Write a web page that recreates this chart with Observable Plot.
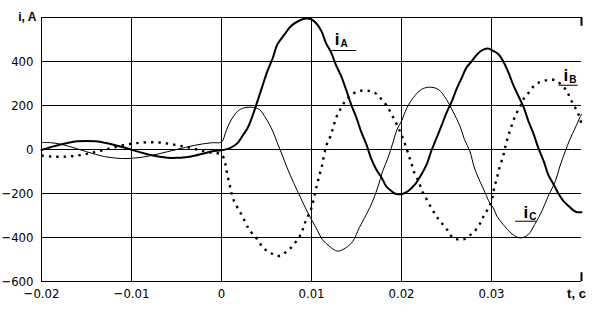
<!DOCTYPE html>
<html>
<head>
<meta charset="utf-8">
<script src="https://cdn.jsdelivr.net/npm/d3@7"></script>
<script src="https://cdn.jsdelivr.net/npm/@observablehq/plot@0.6"></script>
<style>
  html, body { margin: 0; padding: 0; background: #fff; }
  #chart svg { display: block; }
</style>
</head>
<body>
<div id="chart"></div>
<script>
// ---- data ----
const xTicks = [-0.02, -0.01, 0, 0.01, 0.02, 0.03];
const yTicks = [-600, -400, -200, 0, 200, 400];
const yGrid = [-600, -400, -200, 0, 200, 400, 600];
const xLabel = "t, c";
const yLabel = "i, A";

// pre-fault samples (t in s)
const tPre = [-0.020, -0.019, -0.018, -0.017, -0.016, -0.015, -0.014, -0.013, -0.012, -0.011, -0.010,
              -0.009, -0.008, -0.007, -0.006, -0.005, -0.004, -0.003, -0.002, -0.001, 0.000];
const iA_pre = [-2, 10, 22, 31, 37, 39, 37, 31, 22, 11, -1, -13, -24, -32, -37, -38, -35, -28, -18, -8, -4];
const iB_pre = [-27, -32, -33, -32, -27, -20, -11, -1, 9, 19, 26, 31, 33, 32, 27, 20, 12, 3, -7, -16, -22];
const iC_pre = [32, 31, 25, 15, 3, -10, -22, -32, -38, -41, -40, -36, -29, -20, -10, 0, 10, 19, 26, 31, 34];

// post-fault samples [t, i]
const iA_post = [[0.0010,7],[0.0018,30],[0.0023,60],[0.0029,98],[0.0035,159],[0.0040,220],[0.0046,295],
  [0.0051,356],[0.0057,416],[0.0062,477],[0.0070,523],[0.0077,560],[0.0085,583],[0.0094,595],[0.0100,591],
  [0.0105,575],[0.0111,538],[0.0116,485],[0.0122,439],[0.0127,386],[0.0133,333],[0.0139,265],[0.0144,205],
  [0.0150,144],[0.0155,83],[0.0161,23],[0.0166,-38],[0.0172,-91],[0.0178,-129],[0.0183,-167],[0.0189,-190],
  [0.0194,-202],[0.0201,-202],[0.0207,-190],[0.0215,-159],[0.0222,-114],[0.0228,-68],[0.0233,-8],[0.0239,53],
  [0.0245,114],[0.0250,166],[0.0256,220],[0.0261,273],[0.0267,326],[0.0272,371],[0.0278,401],[0.0284,432],
  [0.0289,450],[0.0296,459],[0.0301,450],[0.0308,432],[0.0313,401],[0.0319,348],[0.0324,295],[0.0330,242],
  [0.0336,189],[0.0341,129],[0.0347,68],[0.0352,7],[0.0358,-53],[0.0363,-114],[0.0369,-159],[0.0375,-205],
  [0.0380,-235],[0.0386,-258],[0.0391,-277],[0.0395,-285],[0.0400,-285]];

const iB_post = [[0.0004,-61],[0.0006,-106],[0.0009,-159],[0.0011,-197],[0.0014,-235],[0.0020,-280],[0.0025,-318],
  [0.0030,-359],[0.0035,-386],[0.0041,-414],[0.0046,-447],[0.0053,-465],[0.0060,-482],[0.0066,-482],[0.0072,-465],
  [0.0077,-447],[0.0083,-417],[0.0089,-379],[0.0092,-341],[0.0096,-303],[0.0100,-265],[0.0103,-215],[0.0106,-162],
  [0.0109,-114],[0.0112,-68],[0.0114,-23],[0.0117,23],[0.0121,60],[0.0124,98],[0.0127,141],[0.0131,174],
  [0.0135,205],[0.0140,232],[0.0146,253],[0.0152,265],[0.0159,268],[0.0166,265],[0.0173,250],[0.0178,227],
  [0.0184,197],[0.0189,159],[0.0194,121],[0.0198,85],[0.0202,45],[0.0206,0],[0.0209,-38],[0.0212,-76],
  [0.0215,-114],[0.0219,-144],[0.0223,-190],[0.0226,-212],[0.0231,-250],[0.0236,-285],[0.0240,-311],
  [0.0246,-341],[0.0252,-371],[0.0257,-402],[0.0263,-409],[0.0269,-409],[0.0274,-394],[0.0280,-379],
  [0.0285,-349],[0.0289,-326],[0.0292,-295],[0.0297,-265],[0.0301,-220],[0.0303,-175],[0.0306,-130],
  [0.0309,-80],[0.0313,-30],[0.0315,7],[0.0318,53],[0.0321,91],[0.0324,129],[0.0328,166],[0.0332,197],
  [0.0336,232],[0.0341,257],[0.0347,288],[0.0352,303],[0.0360,314],[0.0367,318],[0.0373,310],[0.0379,288],
  [0.0384,265],[0.0387,235],[0.0391,205],[0.0395,174],[0.0398,144],[0.0400,114]];

const iC_post = [[0.0005,83],[0.0010,129],[0.0018,174],[0.0025,189],[0.0034,192],[0.0042,182],[0.0049,144],
  [0.0057,83],[0.0062,30],[0.0068,-30],[0.0073,-84],[0.0080,-150],[0.0088,-220],[0.0095,-280],[0.0101,-326],
  [0.0107,-371],[0.0112,-409],[0.0120,-440],[0.0129,-462],[0.0138,-447],[0.0146,-417],[0.0153,-356],
  [0.0161,-295],[0.0168,-235],[0.0174,-167],[0.0179,-99],[0.0185,-38],[0.0191,38],[0.0195,91],[0.0200,129],
  [0.0206,189],[0.0213,235],[0.0222,273],[0.0231,283],[0.0241,273],[0.0250,227],[0.0257,174],[0.0265,106],
  [0.0270,45],[0.0276,-8],[0.0281,-84],[0.0287,-144],[0.0293,-197],[0.0298,-243],[0.0302,-265],[0.0306,-303],
  [0.0313,-341],[0.0323,-384],[0.0332,-402],[0.0341,-386],[0.0348,-341],[0.0356,-280],[0.0363,-212],
  [0.0371,-144],[0.0376,-76],[0.0382,-8],[0.0387,45],[0.0393,98],[0.0398,144],[0.0400,160]];

// curve labels (annotation anchors in data units)
const labelNames = ["A", "B", "C"];
const labelT = [0.01285, 0.03827, 0.03381];
const labelI = [476, 310, -312];
const underT1 = [0.01219, 0.03746, 0.03262];
const underT2 = [0.01497, 0.03958, 0.03500];
const underI = [450, 292, -326];

// ---- build tables ----
function series(pre, post) {
  return tPre.map((t, k) => ({t, i: pre[k]})).concat(post.map(([t, i]) => ({t, i})));
}
const dA = series(iA_pre, iA_post);
const dB = series(iB_pre, iB_post);
const dC = series(iC_pre, iC_post);
const labels = labelNames.map((n, k) => ({n, t: labelT[k], i: labelI[k], u1: underT1[k], u2: underT2[k], ui: underI[k]}));

const xMin = xTicks[0], xMax = 0.04, yMin = yGrid[0], yMax = yGrid[yGrid.length - 1];
const font = "'Liberation Sans Narrow', 'Arial Narrow', 'DejaVu Sans Condensed', sans-serif";
const fmt = d => (d === 0 ? "0" : String(d).replace("-", "\u2212"));

const chart = Plot.plot({
  width: 608,
  height: 312,
  marginLeft: 41,
  marginRight: 27,
  marginTop: 17,
  marginBottom: 31,
  style: {fontFamily: font, fontSize: "13px", color: "black", background: "white"},
  x: {domain: [xMin, xMax], axis: null},
  y: {domain: [yMin, yMax], axis: null},
  marks: [
    Plot.ruleY(yGrid, {stroke: "black", strokeWidth: 1}),
    Plot.ruleX(xTicks, {stroke: "black", strokeWidth: 1}),
    Plot.ruleX([xMax], {y1: yMax, y2: yMax - 40, stroke: "black", strokeWidth: 2}),
    Plot.ruleX([xMax], {y1: yMin, y2: yMin + 40, stroke: "black", strokeWidth: 2}),
    Plot.axisY(yTicks, {tickSize: 0, tickPadding: 8, fontSize: 13, fontFamily: font, label: null, tickFormat: fmt}),
    Plot.axisX(xTicks, {tickSize: 0, tickPadding: 7, fontSize: 13, fontFamily: font, label: null, tickFormat: fmt}),
    Plot.text([yLabel], {frameAnchor: "top-left", dx: -5, dy: 0, text: d => d, textAnchor: "end",
      lineAnchor: "middle", fontWeight: "bold", fontSize: 12, fontFamily: "Liberation Sans, Arial, sans-serif"}),
    Plot.text([xLabel], {x: () => xMax, y: () => yMin, text: d => d, dx: -5, dy: 12, textAnchor: "middle",
      lineAnchor: "middle", fontWeight: "bold", fontSize: 13, fontFamily: "Liberation Sans, Arial, sans-serif"}),
    Plot.line(dC, {x: "t", y: "i", stroke: "black", strokeWidth: 1, curve: "catmull-rom"}),
    Plot.line(dB, {x: "t", y: "i", stroke: "black", strokeWidth: 2.4, strokeLinecap: "butt",
      strokeDasharray: "2.4,5", curve: "catmull-rom"}),
    Plot.line(dA, {x: "t", y: "i", stroke: "black", strokeWidth: 2, curve: "catmull-rom"}),
    Plot.link(labels, {x1: "u1", x2: "u2", y1: "ui", y2: "ui", stroke: "black", strokeWidth: 1}),
    Plot.text(labels, {x: "t", y: "i", text: () => "i", lineAnchor: "bottom", fontWeight: "bold", fontSize: 17,
      fontFamily: "Liberation Sans, Arial, sans-serif"}),
    Plot.text(labels, {x: "t", y: "i", text: "n", dx: 7, dy: 2, lineAnchor: "bottom", fontWeight: "bold", fontSize: 10,
      fontFamily: "Liberation Sans, Arial, sans-serif"})
  ]
});
document.getElementById("chart").appendChild(chart);
</script>
</body>
</html>
